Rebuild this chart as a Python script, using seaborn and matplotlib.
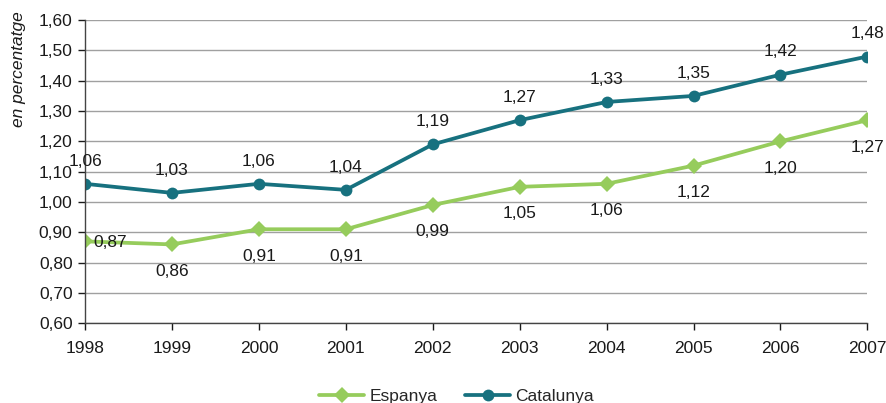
import pandas as pd
import numpy as np
import matplotlib.pyplot as plt
import seaborn as sns
from matplotlib.ticker import FuncFormatter

# data
years = [1998, 1999, 2000, 2001, 2002, 2003, 2004, 2005, 2006, 2007]
espanya = [0.87, 0.86, 0.91, 0.91, 0.99, 1.05, 1.06, 1.12, 1.20, 1.27]
catalunya = [1.06, 1.03, 1.06, 1.04, 1.19, 1.27, 1.33, 1.35, 1.42, 1.48]

df = pd.DataFrame({
    "any": years * 2,
    "valor": espanya + catalunya,
    "serie": ["Espanya"] * len(years) + ["Catalunya"] * len(years),
})

sns.set_style("white")
plt.rcParams["font.family"] = ["Liberation Sans", "DejaVu Sans"]

green = "#96cc5c"
teal = "#17717f"
txt = "#1a1a1a"
fs = 12.5

fig = plt.figure(figsize=(8.86, 4.03), dpi=100)
ax = fig.add_axes([0.096, 0.198, 0.883, 0.752])

sns.lineplot(data=df, x="any", y="valor", hue="serie", style="serie",
             palette={"Espanya": green, "Catalunya": teal},
             markers={"Espanya": "D", "Catalunya": "o"}, dashes=False,
             linewidth=2.7, markersize=8.5, markeredgewidth=0, ax=ax)

# data labels
fmt = lambda v: f"{v:.2f}".replace(".", ",")
for x, v in zip(years, catalunya):
    ax.annotate(fmt(v), (x, v), xytext=(0, 11), textcoords="offset points",
                ha="center", va="bottom", fontsize=fs, color=txt)
for i, (x, v) in enumerate(zip(years, espanya)):
    if i == 0:
        ax.annotate(fmt(v), (x, v), xytext=(6, -1), textcoords="offset points",
                    ha="left", va="center", fontsize=fs, color=txt)
    else:
        ax.annotate(fmt(v), (x, v), xytext=(0, -14), textcoords="offset points",
                    ha="center", va="top", fontsize=fs, color=txt)

ax.set_xlim(1998, 2007)
ax.set_ylim(0.6, 1.6)
ax.set_xticks(years)
ax.set_yticks(np.arange(0.6, 1.61, 0.1))
ax.yaxis.set_major_formatter(FuncFormatter(lambda v, p: fmt(v)))
ax.tick_params(axis="both", labelsize=fs, colors=txt, length=5,
               width=1, direction="out", left=True, bottom=True, pad=4)
ax.tick_params(axis="x", pad=8)
ax.grid(axis="y", color="#a0a0a0", linewidth=1)
ax.set_axisbelow(True)
for s in ["top", "right"]:
    ax.spines[s].set_visible(False)
for s in ["left", "bottom"]:
    ax.spines[s].set_color("#444444")
    ax.spines[s].set_linewidth(1)

ax.set_xlabel("")
ax.set_ylabel("")
fig.text(0.021, 0.972, "en percentatge", rotation=90, ha="center", va="top",
         fontstyle="italic", fontsize=fs, color=txt)

handles, labels = ax.get_legend_handles_labels()
ax.legend(handles, labels, loc="upper center", bbox_to_anchor=(0.475, -0.165),
          ncol=2, frameon=False, fontsize=fs, handlelength=2.6,
          columnspacing=1.6, handletextpad=0.3)

fig.savefig("out.png", dpi=100)
